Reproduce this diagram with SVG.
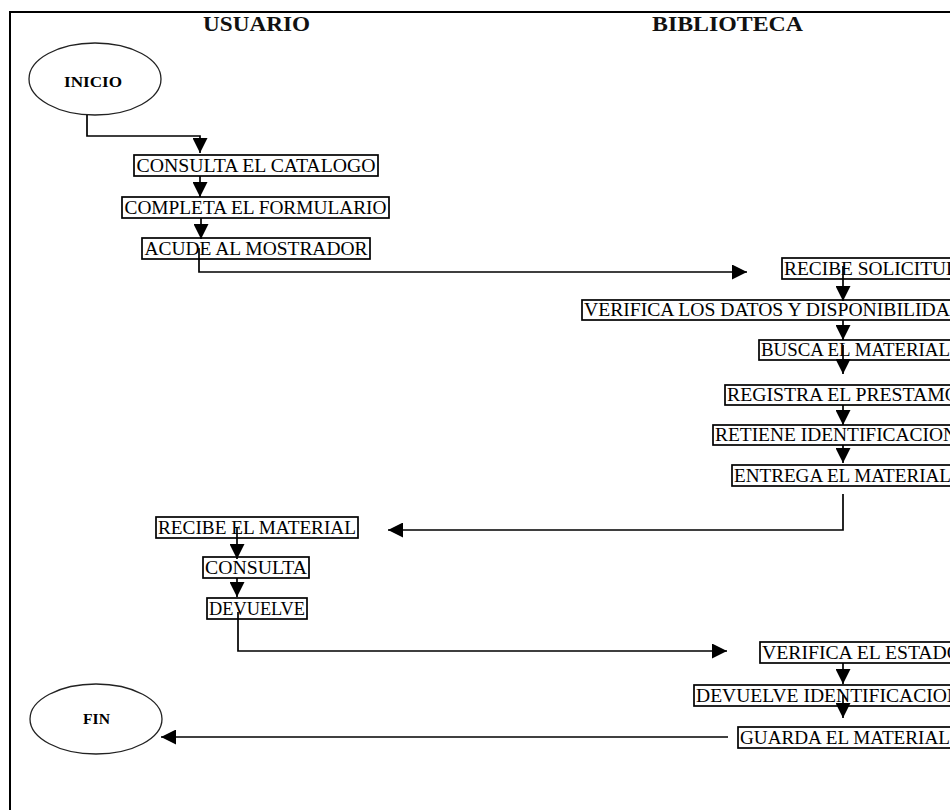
<svg xmlns="http://www.w3.org/2000/svg" width="950" height="810" viewBox="0 0 950 810">
<defs>
<style>
.box{fill:#fff;stroke:#000;stroke-width:1.7}
.lbl{font-family:"Liberation Serif","Times New Roman",serif;font-size:18px;fill:#000}
.ttl{font-family:"Liberation Serif","Times New Roman",serif;font-size:21px;font-weight:bold;fill:#111}
.term{fill:#fff;stroke:#222;stroke-width:1.3}
.tlbl{font-family:"Liberation Serif","Times New Roman",serif;font-size:15px;font-weight:bold;fill:#000}
.con{fill:none;stroke:#000;stroke-width:1.7}
</style>
<marker id="ah" viewBox="0 0 14 14" refX="14" refY="7" markerWidth="15" markerHeight="15" markerUnits="userSpaceOnUse" orient="auto">
<path d="M0,0 L14,7 L0,14 z" fill="#000"/>
</marker>
</defs>
<rect width="950" height="810" fill="#fff"/>
<rect x="10" y="12" width="970" height="830" fill="none" stroke="#000" stroke-width="2"/>
<g id="lanes">
<text class="ttl" x="203" y="31" textLength="107" lengthAdjust="spacingAndGlyphs">USUARIO</text>
<text class="ttl" x="652" y="31" textLength="151" lengthAdjust="spacingAndGlyphs">BIBLIOTECA</text>
</g>
<g id="inicio"><ellipse class="term" cx="95" cy="79" rx="66" ry="36"/><text class="tlbl" x="64" y="87" textLength="58" lengthAdjust="spacingAndGlyphs">INICIO</text></g>
<g id="consulta-catalogo"><rect class="box" x="134" y="155" width="244" height="21"/><text class="lbl" x="136.5" y="171.5" textLength="239" lengthAdjust="spacingAndGlyphs">CONSULTA EL CATALOGO</text></g>
<g id="completa-formulario"><rect class="box" x="122" y="197" width="267" height="21"/><text class="lbl" x="124.5" y="213.5" textLength="262" lengthAdjust="spacingAndGlyphs">COMPLETA EL FORMULARIO</text></g>
<g id="acude-mostrador"><rect class="box" x="142" y="238" width="228" height="21"/><text class="lbl" x="144.5" y="254.5" textLength="223" lengthAdjust="spacingAndGlyphs">ACUDE AL MOSTRADOR</text></g>
<g id="recibe-solicitud"><rect class="box" x="782" y="258" width="190" height="21"/><text class="lbl" x="784" y="274.5" textLength="176" lengthAdjust="spacingAndGlyphs">RECIBE SOLICITUD</text></g>
<g id="verifica-datos"><rect class="box" x="582" y="300" width="395" height="20"/><text class="lbl" x="584" y="316" textLength="380" lengthAdjust="spacingAndGlyphs">VERIFICA LOS DATOS Y DISPONIBILIDAD</text></g>
<g id="busca-material"><rect class="box" x="759" y="340" width="210" height="20"/><text class="lbl" x="761" y="356" textLength="189" lengthAdjust="spacingAndGlyphs">BUSCA EL MATERIAL</text></g>
<g id="registra-prestamo"><rect class="box" x="725" y="385" width="240" height="20"/><text class="lbl" x="727" y="401" textLength="232" lengthAdjust="spacingAndGlyphs">REGISTRA EL PRESTAMO</text></g>
<g id="retiene-identificacion"><rect class="box" x="713" y="425" width="250" height="20"/><text class="lbl" x="715" y="441" textLength="242" lengthAdjust="spacingAndGlyphs">RETIENE IDENTIFICACION</text></g>
<g id="entrega-material"><rect class="box" x="732" y="465" width="235" height="21"/><text class="lbl" x="734" y="481.5" textLength="217" lengthAdjust="spacingAndGlyphs">ENTREGA EL MATERIAL</text></g>
<g id="recibe-material"><rect class="box" x="156" y="517" width="202" height="21"/><text class="lbl" x="158" y="533.5" textLength="198" lengthAdjust="spacingAndGlyphs">RECIBE EL MATERIAL</text></g>
<g id="consulta"><rect class="box" x="203" y="557" width="106" height="21"/><text class="lbl" x="205" y="573.5" textLength="102" lengthAdjust="spacingAndGlyphs">CONSULTA</text></g>
<g id="devuelve"><rect class="box" x="207" y="598" width="100" height="21"/><text class="lbl" x="209" y="614.5" textLength="96" lengthAdjust="spacingAndGlyphs">DEVUELVE</text></g>
<g id="verifica-estado"><rect class="box" x="760" y="642" width="205" height="21"/><text class="lbl" x="762" y="658.5" textLength="199" lengthAdjust="spacingAndGlyphs">VERIFICA EL ESTADO</text></g>
<g id="devuelve-identificacion"><rect class="box" x="694" y="685" width="275" height="21"/><text class="lbl" x="696" y="701.5" textLength="265" lengthAdjust="spacingAndGlyphs">DEVUELVE IDENTIFICACION</text></g>
<g id="guarda-material"><rect class="box" x="738" y="727" width="230" height="21"/><text class="lbl" x="740" y="743.5" textLength="210" lengthAdjust="spacingAndGlyphs">GUARDA EL MATERIAL</text></g>
<g id="fin"><ellipse class="term" cx="96" cy="719" rx="66" ry="35"/><text class="tlbl" x="83" y="724" textLength="27" lengthAdjust="spacingAndGlyphs">FIN</text></g>
<g id="connectors">
<path class="con" d="M87,115 V136 H200 V153" marker-end="url(#ah)"/>
<path class="con" d="M200,176 V197" marker-end="url(#ah)"/>
<path class="con" d="M201,218 V239" marker-end="url(#ah)"/>
<path class="con" d="M199,248 V272 H747" marker-end="url(#ah)"/>
<path class="con" d="M843,266 V301" marker-end="url(#ah)"/>
<path class="con" d="M843,320 V340" marker-end="url(#ah)"/>
<path class="con" d="M843,345 V374" marker-end="url(#ah)"/>
<path class="con" d="M843,405 V425" marker-end="url(#ah)"/>
<path class="con" d="M843,445 V463" marker-end="url(#ah)"/>
<path class="con" d="M843,494 V530 H388" marker-end="url(#ah)"/>
<path class="con" d="M237,528 V559" marker-end="url(#ah)"/>
<path class="con" d="M237,578 V597" marker-end="url(#ah)"/>
<path class="con" d="M238,612 V651 H727" marker-end="url(#ah)"/>
<path class="con" d="M843,663 V684" marker-end="url(#ah)"/>
<path class="con" d="M843,695 V718" marker-end="url(#ah)"/>
<path class="con" d="M728,737 H161" marker-end="url(#ah)"/>
</g>
</svg>
